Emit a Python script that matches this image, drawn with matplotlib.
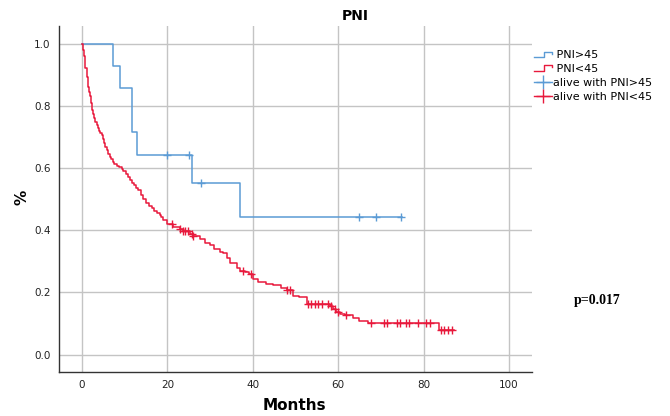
import numpy as np
import matplotlib
matplotlib.use("Agg")
import matplotlib.pyplot as plt
from matplotlib.lines import Line2D
from matplotlib.legend_handler import HandlerBase

# Kaplan-Meier steps, PNI>45 group
hi_time = [0, 7.3, 8.8, 11.6, 12.9, 25.7, 36.9, 75.0]
hi_surv = [1.0, 0.929, 0.857, 0.714, 0.643, 0.551, 0.441, 0.441]
hi_cens = [20.0, 25.0, 27.9, 64.9, 68.8, 74.7]

# Kaplan-Meier steps, PNI<45 group
lo_time = [0, 0.2, 0.4, 0.6, 0.8, 1.1, 1.3, 1.5, 1.7, 1.9, 2.1, 2.4, 2.6, 2.9,
           3.1, 3.4, 3.7, 4.0, 4.3, 4.6, 4.9, 5.2, 5.5, 5.8, 6.1, 6.5, 6.8,
           7.2, 7.6, 8.1, 8.7, 9.3, 9.7, 10.2, 10.7, 11.2, 11.7, 12.2, 12.7,
           13.2, 13.7, 14.3, 15.1, 15.7, 16.3, 16.9, 17.5, 18.2, 18.6, 19.0,
           19.8, 21.4, 22.9, 23.7, 25.3, 26.0, 27.6, 28.7, 29.9, 31.0,
           32.3, 33.1, 34.0, 34.6, 36.2, 37.0, 38.1, 39.0, 40.1, 41.2, 43.0,
           44.7, 46.5, 47.9, 49.4, 50.8, 52.6, 58.0, 58.8, 59.6, 60.4, 61.5,
           63.5, 64.9, 67.0, 83.7, 87.2]
lo_surv = [1.0, 0.98, 0.96, 0.94, 0.92, 0.893, 0.876, 0.86, 0.845, 0.83, 0.81,
           0.786, 0.773, 0.76, 0.748, 0.737, 0.728, 0.72, 0.712, 0.705, 0.692,
           0.68, 0.668, 0.657, 0.646, 0.635, 0.628, 0.62, 0.613, 0.606, 0.602,
           0.598, 0.589, 0.58, 0.57, 0.56, 0.552, 0.545, 0.537, 0.528, 0.514,
           0.5, 0.487, 0.478, 0.47, 0.462, 0.455, 0.45, 0.441, 0.432,
           0.419, 0.41, 0.403, 0.396,
           0.387, 0.38, 0.373, 0.36, 0.351, 0.34, 0.33, 0.325, 0.31, 0.293,
           0.277, 0.27, 0.266, 0.258, 0.244, 0.233, 0.228, 0.223, 0.215, 0.207,
           0.188, 0.185, 0.162, 0.155, 0.145, 0.137, 0.132, 0.126, 0.119,
           0.108, 0.1, 0.08, 0.08]
lo_cens = [21.0, 22.9, 23.7, 24.1, 24.9, 25.7, 26.0, 37.7, 39.7, 47.9, 48.7,
           52.9, 53.7, 54.5, 55.3, 56.1, 57.6, 58.4, 59.2, 60.0, 61.8, 67.8,
           70.7, 71.5, 73.8, 74.6, 75.8, 76.7, 78.7, 80.6, 81.4, 84.0, 84.8,
           85.7, 86.6]

blue = "#5b9bd5"
red = "#e8193c"


def step_value(times, surv, t):
    idx = np.searchsorted(times, t, side="right") - 1
    return np.asarray(surv)[idx]


class StepHandler(HandlerBase):
    # small step-shaped line for the legend
    def create_artists(self, legend, orig_handle, xdescent, ydescent,
                       width, height, fontsize, trans):
        x0, x1 = -xdescent, -xdescent + width
        y0, y1 = -ydescent + 0.15 * height, -ydescent + 0.85 * height
        xm = x0 + 0.55 * width
        xs = [x0, xm, xm, x1, x1]
        ys = [y0, y0, y1, y1, y0 + 0.45 * height]
        ln = Line2D(xs, ys, color=orig_handle.get_color(), lw=1.0,
                    transform=trans)
        return [ln]


fig = plt.figure(figsize=(6.7, 4.16), dpi=100)
ax = fig.add_axes([0.088, 0.1065, 0.706, 0.8315])

ax.step(hi_time, hi_surv, where="post", color=blue, lw=1.1)
ax.step(lo_time, lo_surv, where="post", color=red, lw=1.1)
ax.plot(hi_cens, step_value(hi_time, hi_surv, hi_cens), ls="none",
        marker="+", ms=6, mew=1.0, color=blue)
ax.plot(lo_cens, step_value(lo_time, lo_surv, lo_cens), ls="none",
        marker="+", ms=6, mew=1.0, color=red)

ax.set_xlim(-5.4, 105.4)
ax.set_ylim(-0.055, 1.057)
ax.set_xticks([0, 20, 40, 60, 80, 100])
ax.set_yticks([0.0, 0.2, 0.4, 0.6, 0.8, 1.0])
ax.set_yticklabels(["0.0", "0.2", "0.4", "0.6", "0.8", "1.0"])
ax.tick_params(length=0, labelsize=7.5, colors="#222222", pad=6)
ax.grid(True, color="#c4c4c4", lw=1.0)
ax.set_axisbelow(True)
for side in ["top", "right"]:
    ax.spines[side].set_visible(False)
for side in ["left", "bottom"]:
    ax.spines[side].set_color("#333333")
    ax.spines[side].set_linewidth(1.0)

fig.text(0.44, 0.025, "Months", fontsize=11, fontweight="bold",
         ha="center", va="center")
fig.text(0.033, 0.525, "%", fontsize=11, fontweight="bold", rotation=90,
         ha="center", va="center")
fig.text(0.53, 0.962, "PNI", fontsize=10, fontweight="bold",
         ha="center", va="center")
fig.text(0.891, 0.278, "p=0.017", fontsize=10, fontweight="bold",
         family="Liberation Serif", ha="center", va="center")

h1 = Line2D([], [], color=blue)
h2 = Line2D([], [], color=red)
h3 = Line2D([], [], color=blue, lw=1.0, marker="+", ms=10, mew=1.0)
h4 = Line2D([], [], color=red, lw=1.0, marker="+", ms=10, mew=1.0)
fig.legend([h1, h2, h3, h4],
           [" PNI>45", " PNI<45", "alive with PNI>45", "alive with PNI<45"],
           handler_map={h1: StepHandler(), h2: StepHandler()},
           loc="upper left", bbox_to_anchor=(0.79, 0.89), frameon=False,
           fontsize=8, handlelength=1.6, handletextpad=0.1,
           labelspacing=0.35, borderaxespad=0)

fig.savefig("out.png", dpi=100)
